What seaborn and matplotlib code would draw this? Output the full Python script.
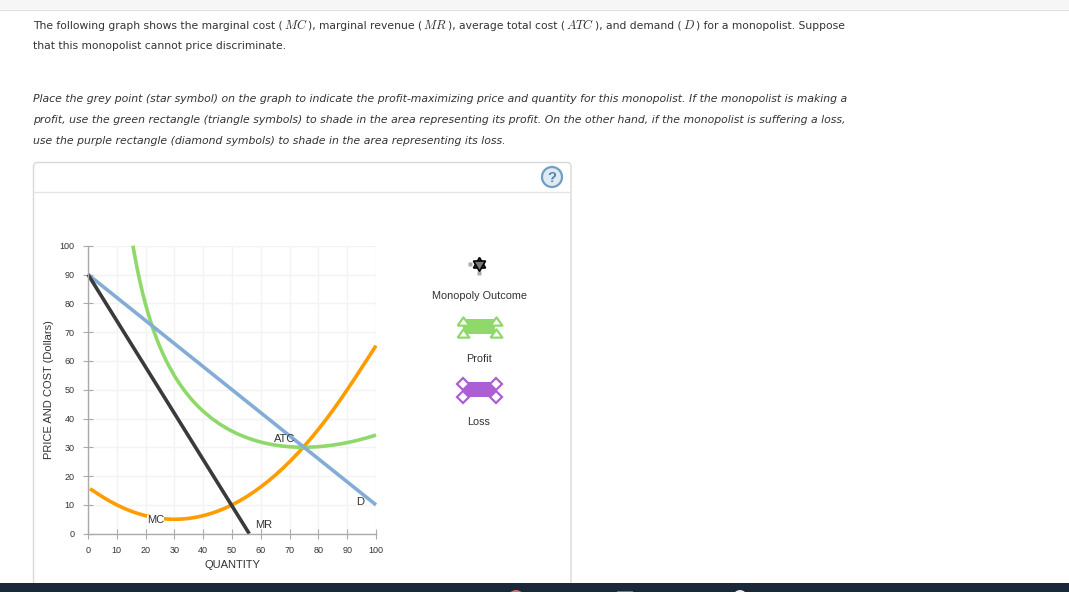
import matplotlib
matplotlib.use('Agg')
import matplotlib.pyplot as plt
from matplotlib.patches import Rectangle, FancyBboxPatch, Circle
import pandas as pd
import seaborn as sns

# --- Data ---
MC_Q = [0.7, 2.5, 5, 7.5, 10, 12.5, 15, 17.5, 20, 22.5, 25, 27.5, 30, 32.5, 35, 37.5, 40, 42.5, 45, 47.5, 50,
        52.5, 55, 57.5, 60, 62.5, 65, 67.5, 70, 72.5, 75, 77.5, 80, 82.5, 85, 87.5, 90, 92.5, 95, 97.5, 100]
MC_P = [15.6, 14.45, 12.81, 11.33, 10, 8.83, 7.81, 6.95, 6.25, 5.7, 5.31, 5.08, 5, 5.08, 5.31, 5.7, 6.25, 6.95,
        7.81, 8.83, 10, 11.33, 12.81, 14.45, 16.25, 18.2, 20.31, 22.58, 25, 27.58, 30.31, 33.2, 36.25, 39.45,
        42.81, 46.33, 50, 53.7, 57.6, 61.4, 65.3]
ATC_Q = [15.6, 16, 17, 18, 19, 20, 21, 22, 23, 24, 25, 26, 27, 28, 30, 32, 34, 36, 38, 40, 43, 46, 49, 52, 55,
         58, 61, 64, 67, 70, 73, 76, 79, 82, 85, 88, 91, 94, 97, 100]
ATC_P = [100, 97.76, 92.43, 87.68, 83.42, 79.57, 76.07, 72.88, 69.96, 67.28, 64.8, 62.51, 60.39, 58.41, 54.85,
         51.74, 49, 46.57, 44.41, 42.5, 39.99, 37.89, 36.1, 34.62, 33.39, 32.36, 31.56, 30.93, 30.48, 30.18,
         30.03, 30.02, 30.14, 30.39, 30.76, 31.24, 31.83, 32.53, 33.34, 34.25]
D_Q = [0, 100]
D_P = [90, 10]
MR_Q = [0, 56]
MR_P = [90, 0]
TICKS = [0, 10, 20, 30, 40, 50, 60, 70, 80, 90, 100]

LINE_1 = ['The following graph shows the marginal cost (', '$MC$', '), marginal revenue (', '$MR$',
          '), average total cost (', '$ATC$', '), and demand (', '$D$', ') for a monopolist. Suppose']
LINE_2 = 'that this monopolist cannot price discriminate.'
TASK_LINES = [
    'Place the grey point (star symbol) on the graph to indicate the profit-maximizing price and quantity for this monopolist. If the monopolist is making a',
    'profit, use the green rectangle (triangle symbols) to shade in the area representing its profit. On the other hand, if the monopolist is suffering a loss,',
    'use the purple rectangle (diamond symbols) to shade in the area representing its loss.',
]

# --- Colours ---
TEXT = '#333333'
GREEN = '#8fd96b'
PURPLE = '#ab5fd3'
ORANGE = '#ff9c00'
BLUE = '#83add6'
BLACK = '#3a3a3a'
AXIS = '#aaaaaa'

W, H = 1069, 592
BODY_SIZE = 7.75
ITALIC_SIZE = 7.82
MATH_SIZE = 9

sns.set_theme(style='white')
plt.rcParams['font.family'] = ['DejaVu Sans']
plt.rcParams['mathtext.fontset'] = 'cm'

fig = plt.figure(figsize=(W / 100, H / 100), dpi=100, facecolor='white')

# page layer in pixel coordinates
page = fig.add_axes([0, 0, 1, 1])
page.set_xlim(0, W)
page.set_ylim(H, 0)
page.axis('off')

page.add_patch(Rectangle((0, 0), W, 9, fc='#f6f6f6', ec='none'))
page.plot([0, W], [9.5, 9.5], color='#e2e2e2', lw=1)
page.add_patch(Rectangle((0, 583), W, 9, fc='#1b2838', ec='none', zorder=5))
page.add_patch(Circle((516, 598), 8, fc='#d9705f', ec='none', zorder=6))
page.add_patch(Rectangle((617, 590.5), 16, 2, fc='#4a7fc1', ec='none', zorder=6))
page.add_patch(Circle((740, 597), 7, fc='#eeeeee', ec='none', zorder=6))


def draw_runs(x, y, runs):
    # lay text and math pieces end to end, math is set a bit larger
    renderer = fig.canvas.get_renderer()
    for run in runs:
        size = MATH_SIZE if run.startswith('$') else BODY_SIZE
        t = page.text(x, y, run, fontsize=size, color=TEXT, va='baseline')
        x += t.get_window_extent(renderer).width + 1
        if not run.startswith('$') and run.endswith(' '):
            x += 2.5


draw_runs(33, 29, LINE_1)
page.text(33, 46, LINE_2, fontsize=BODY_SIZE, color=TEXT, va='center')
for y, line in zip([99, 120, 141], TASK_LINES):
    page.text(33, y, line, fontsize=ITALIC_SIZE, style='italic', color=TEXT, va='center')

# card around the graph
page.add_patch(FancyBboxPatch((33.5, 162.5), 537.5, 440, boxstyle='round,pad=0,rounding_size=4',
                              fc='white', ec='#d9d9d9', lw=1))
page.plot([34, 571], [191.5, 191.5], color='#e4e4e4', lw=1)
page.add_patch(Circle((552, 177), 10, fc='#dfeaf3', ec='#6f9fc4', lw=1.6))
page.text(552, 177.5, '?', fontsize=10.5, fontweight='bold', color='#4f86b0',
          ha='center', va='center', family='Liberation Sans')

# legend column on the right of the graph
LEG = dict(fontsize=7.8, color=TEXT, ha='center', va='center', family='Liberation Sans')
page.text(479, 296, 'Monopoly Outcome', **LEG)
page.text(479, 359, 'Profit', **LEG)
page.text(479, 422, 'Loss', **LEG)

page.plot([469.5], [263.5], 's', ms=2.8, color='#aaaaaa', mec='none')
page.plot([479], [272.5], 's', ms=3, color='#aaaaaa', mec='none')
page.plot([479], [264], marker=(3, 0, 0), ms=10, mfc='#777777', mec='black', mew=1.2)
page.plot([479], [264], marker=(3, 0, 180), ms=10, mfc='#777777', mec='black', mew=1.2)

TRIANGLE = [(-1, -0.7), (1, -0.7), (0, 0.7), (-1, -0.7)]
page.add_patch(Rectangle((463, 319), 32, 15, fc=GREEN, ec='none'))
for x, y in [(463, 321), (496, 321), (463, 333), (496, 333)]:
    page.plot([x], [y], marker=TRIANGLE, ms=8.5, mfc='white', mec=GREEN, mew=1.6)
page.add_patch(Rectangle((463, 382), 32, 15, fc=PURPLE, ec='none'))
for x, y in [(463, 383.5), (496, 383.5), (463, 396.5), (496, 396.5)]:
    page.plot([x], [y], marker='D', ms=6, mfc='white', mec=PURPLE, mew=1.6)

# the graph itself, x 88-376 px and y 245.7-533.7 px
ax = fig.add_axes([88 / W, 1 - 533.7 / H, 288 / W, 288 / H])
ax.patch.set_alpha(0)
ax.set_xlim(0, 100)
ax.set_ylim(0, 100)
ax.set_xticks(TICKS)
ax.set_yticks(TICKS)
ax.grid(True, color='#f3f3f3', lw=1)
ax.set_axisbelow(True)
for side in ['top', 'right']:
    ax.spines[side].set_visible(False)
for side in ['left', 'bottom']:
    ax.spines[side].set_color(AXIS)
    ax.spines[side].set_linewidth(1)
ax.tick_params(axis='x', direction='inout', length=7, width=0.8, color=AXIS, pad=5,
               labelsize=6.5, labelcolor=TEXT, bottom=True)
ax.tick_params(axis='y', direction='inout', length=7, width=0.8, color=AXIS, pad=6,
               labelsize=6.5, labelcolor=TEXT, left=True)
for lab in ax.get_xticklabels() + ax.get_yticklabels():
    lab.set_family('Liberation Sans')

series = [(MC_Q, MC_P, ORANGE), (ATC_Q, ATC_P, GREEN), (D_Q, D_P, BLUE), (MR_Q, MR_P, BLACK)]
for q, p, color in series:
    df = pd.DataFrame({'q': q, 'p': p})
    sns.lineplot(data=df, x='q', y='p', color=color, lw=2.6, ax=ax, clip_on=False,
                 solid_capstyle='butt', solid_joinstyle='round', errorbar=None, sort=False)

ax.set_xlabel('QUANTITY', fontsize=8, color=TEXT, family='Liberation Sans', labelpad=4)
ax.set_ylabel('PRICE AND COST (Dollars)', fontsize=8, color=TEXT, family='Liberation Sans', labelpad=4)

CURVE = dict(fontsize=8, color=TEXT, ha='center', va='center', family='Liberation Sans')
HALO = dict(fc='white', ec='none', pad=0)
ax.text(23.5, 4.7, 'MC', bbox=HALO, **CURVE)
ax.text(61, 3, 'MR', **CURVE)
ax.text(68.4, 32.8, 'ATC', **CURVE)
ax.text(94.5, 11, 'D', **CURVE)

fig.savefig('out.png', dpi=100)
plt.close(fig)
